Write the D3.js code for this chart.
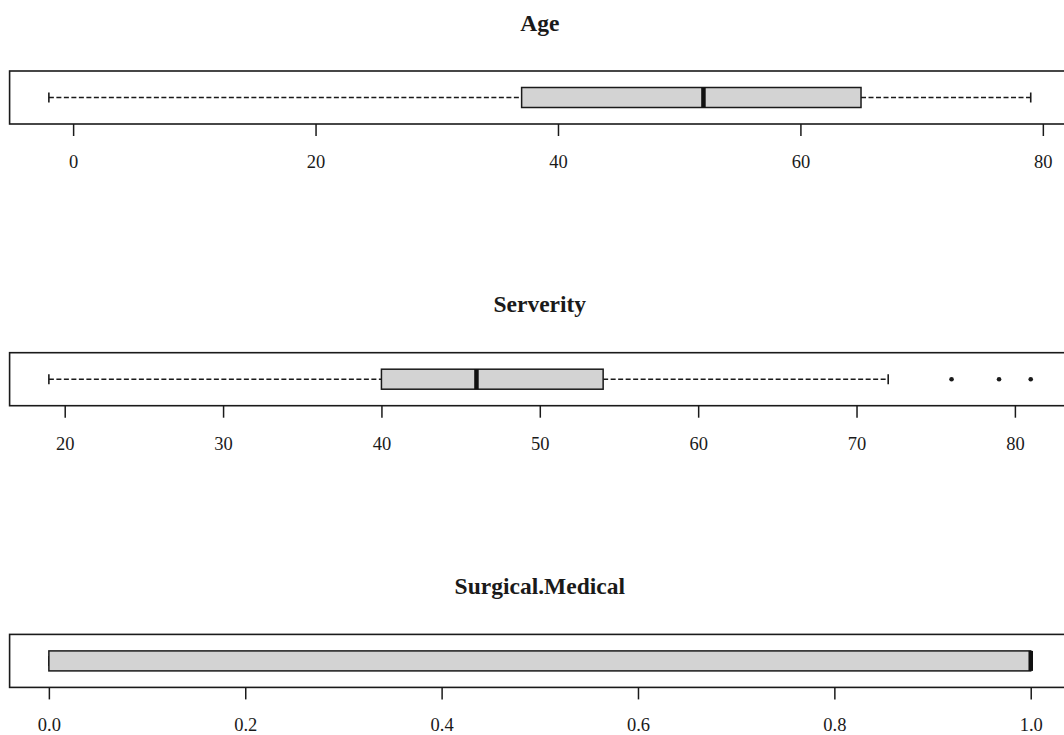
<!DOCTYPE html>
<html>
<head>
<meta charset="utf-8">
<script src="https://cdn.jsdelivr.net/npm/d3@7"></script>
<style>
  html, body { margin: 0; padding: 0; background: #fff; }
  svg { display: block; }
  text { font-family: "Liberation Serif", "Times New Roman", serif; fill: #1a1a1a; }
</style>
</head>
<body>
<svg id="chart" width="1064" height="735"></svg>
<script>
// Five-number summaries for each variable
const variables = ["Age", "Serverity", "Surgical.Medical"];
const whiskerLow = [-2, 19, 0];
const q1 = [37, 40, 0];
const median = [52, 46, 1];
const q3 = [65, 54, 1];
const whiskerHigh = [79, 72, 1];
const outliers = [[], [76, 79, 81], []];

// Tick values / labels per panel
const tickValues = [
  [0, 20, 40, 60, 80],
  [20, 30, 40, 50, 60, 70, 80],
  [0, 0.2, 0.4, 0.6, 0.8, 1.0]
];
const tickFormats = [d3.format("d"), d3.format("d"), d3.format(".1f")];

const plotLeft = 9.6, plotRight = 1070;
const firstTop = 71, panelStep = 281.7, frameH = 53, boxH = 20;

const svg = d3.select("#chart");

variables.forEach((name, i) => {
  const lo = d3.min([whiskerLow[i], ...outliers[i]]);
  const hi = d3.max([whiskerHigh[i], ...outliers[i]]);
  const pad = (hi - lo) * 0.04;
  const x = d3.scaleLinear().domain([lo - pad, hi + pad]).range([plotLeft, plotRight]);

  const top = firstTop + i * panelStep;
  const cy = top + frameH / 2;
  const g = svg.append("g");

  // Title
  g.append("text")
    .attr("x", (plotLeft + plotRight) / 2)
    .attr("y", top - 40.5)
    .attr("text-anchor", "middle")
    .attr("font-weight", "bold")
    .attr("font-size", 23.5)
    .text(name);

  // Whiskers (dashed)
  [[whiskerLow[i], q1[i]], [q3[i], whiskerHigh[i]]].forEach(([a, b]) => {
    g.append("line")
      .attr("x1", x(a)).attr("x2", x(b))
      .attr("y1", cy).attr("y2", cy)
      .attr("stroke", "#1a1a1a").attr("stroke-width", 1.5)
      .attr("stroke-dasharray", "5,2.5");
  });

  // Staples
  [whiskerLow[i], whiskerHigh[i]].forEach(v => {
    g.append("line")
      .attr("x1", x(v)).attr("x2", x(v))
      .attr("y1", cy - boxH / 4).attr("y2", cy + boxH / 4)
      .attr("stroke", "#1a1a1a").attr("stroke-width", 1.6);
  });

  // Box
  g.append("rect")
    .attr("x", x(q1[i]))
    .attr("y", cy - boxH / 2)
    .attr("width", Math.max(0, x(q3[i]) - x(q1[i])))
    .attr("height", boxH)
    .attr("fill", "#d3d3d3")
    .attr("stroke", "#1a1a1a")
    .attr("stroke-width", 1.5);

  // Median
  g.append("line")
    .attr("x1", x(median[i])).attr("x2", x(median[i]))
    .attr("y1", cy - boxH / 2).attr("y2", cy + boxH / 2)
    .attr("stroke", "#111").attr("stroke-width", 4.5);

  // Outliers
  g.selectAll("circle.out").data(outliers[i]).enter()
    .append("circle")
    .attr("class", "out")
    .attr("cx", d => x(d)).attr("cy", cy)
    .attr("r", 2.3)
    .attr("fill", "#1a1a1a");

  // Frame
  g.append("rect")
    .attr("x", plotLeft).attr("y", top)
    .attr("width", plotRight - plotLeft).attr("height", frameH)
    .attr("fill", "none")
    .attr("stroke", "#1a1a1a").attr("stroke-width", 1.6);

  // Axis
  const axis = d3.axisBottom(x)
    .tickValues(tickValues[i])
    .tickFormat(tickFormats[i])
    .tickSize(12)
    .tickSizeOuter(0);
  const ax = g.append("g")
    .attr("transform", `translate(0,${top + frameH})`)
    .call(axis);
  ax.select(".domain").remove();
  ax.selectAll(".tick line").attr("stroke", "#1a1a1a").attr("stroke-width", 1.5);
  ax.selectAll(".tick text")
    .attr("y", 44).attr("dy", 0)
    .attr("font-size", 18.5)
    .attr("font-family", "Liberation Serif, Times New Roman, serif")
    .attr("fill", "#1a1a1a");
});
</script>
</body>
</html>
